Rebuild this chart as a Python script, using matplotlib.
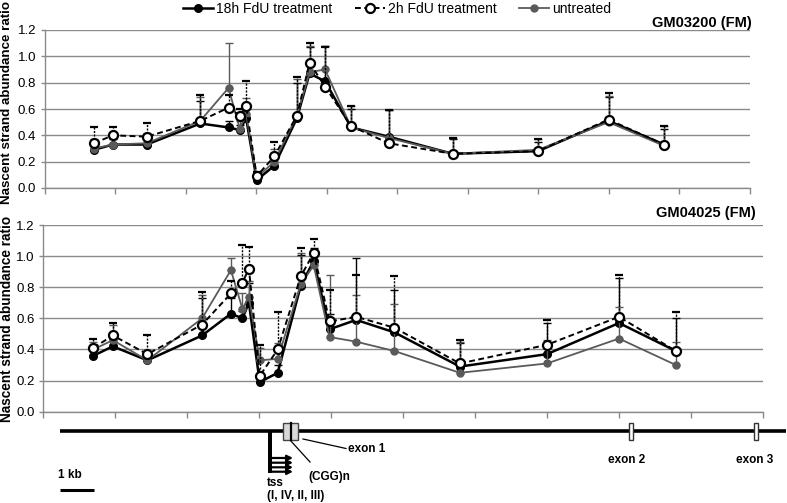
import matplotlib
matplotlib.use("Agg")
import matplotlib.pyplot as plt
from matplotlib.lines import Line2D
from matplotlib.patches import Rectangle

plt.rcParams['font.family'] = ['Liberation Sans', 'DejaVu Sans']

# ---------------- data ----------------
positions = [0.70, 0.97, 1.45, 2.21, 2.61, 2.77, 2.86, 3.01, 3.26, 3.58,
             3.76, 3.98, 4.35, 4.88, 5.79, 7.00, 8.00, 8.79]

series_names = ["18h FdU treatment", "2h FdU treatment", "untreated"]

top_18h = [0.29, 0.33, 0.33, 0.49, 0.46, 0.44, 0.53, 0.06, 0.17, 0.53, 0.87, 0.81, 0.46, 0.39, 0.26, 0.28, 0.51, 0.33]
top_2h  = [0.34, 0.40, 0.39, 0.51, 0.61, 0.55, 0.62, 0.09, 0.24, 0.55, 0.95, 0.77, 0.47, 0.34, 0.26, 0.28, 0.52, 0.33]
top_un  = [0.30, 0.33, 0.34, 0.51, 0.76, 0.45, 0.56, 0.08, 0.20, 0.55, 0.88, 0.90, 0.46, 0.38, 0.26, 0.29, 0.50, 0.32]
top_err_18h = [0.05, 0.04, 0.05, 0.17, 0.05, 0.04, 0.10, 0.03, 0.06, 0.27, 0.20, 0.27, 0.14, 0.20, 0.11, 0.07, 0.18, 0.12]
top_err_2h  = [0.12, 0.06, 0.10, 0.20, 0.10, 0.05, 0.19, 0.03, 0.11, 0.29, 0.15, 0.30, 0.15, 0.25, 0.12, 0.09, 0.20, 0.14]
top_err_un  = [0.07, 0.06, 0.08, 0.18, 0.34, 0.06, 0.12, 0.04, 0.10, 0.28, 0.20, 0.18, 0.16, 0.21, 0.12, 0.08, 0.20, 0.15]

bot_18h = [0.36, 0.42, 0.33, 0.49, 0.63, 0.60, 0.70, 0.19, 0.25, 0.81, 0.97, 0.53, 0.59, 0.51, 0.29, 0.37, 0.57, 0.39]
bot_2h  = [0.41, 0.49, 0.37, 0.56, 0.76, 0.83, 0.92, 0.23, 0.40, 0.87, 1.02, 0.58, 0.61, 0.54, 0.31, 0.43, 0.61, 0.39]
bot_un  = [0.40, 0.46, 0.33, 0.60, 0.91, 0.66, 0.74, 0.33, 0.34, 0.82, 0.94, 0.48, 0.45, 0.39, 0.25, 0.31, 0.47, 0.30]
bot_err_18h = [0.05, 0.05, 0.05, 0.24, 0.10, 0.05, 0.13, 0.05, 0.05, 0.20, 0.08, 0.10, 0.40, 0.27, 0.15, 0.20, 0.29, 0.21]
bot_err_2h  = [0.06, 0.08, 0.12, 0.21, 0.08, 0.24, 0.14, 0.20, 0.24, 0.18, 0.09, 0.20, 0.27, 0.33, 0.15, 0.16, 0.27, 0.25]
bot_err_un  = [0.05, 0.10, 0.05, 0.15, 0.08, 0.10, 0.10, 0.08, 0.10, 0.20, 0.10, 0.40, 0.30, 0.30, 0.20, 0.15, 0.20, 0.15]

panel_titles = ["GM03200 (FM)", "GM04025 (FM)"]
y_ticks = [0.0, 0.2, 0.4, 0.6, 0.8, 1.0, 1.2]
y_label = "Nascent strand abundance ratio"

W, H = 787, 503
fig = plt.figure(figsize=(W / 100, H / 100), dpi=100)

def px_axes(l, t, r, b):
    return fig.add_axes([l / W, 1 - b / H, (r - l) / W, (b - t) / H])

ax_top = px_axes(44.5, 30, 749.5, 188)
ax_bot = px_axes(43, 225, 763, 411.7)

GRID = "#8a8a8a"
GRAY = "#5a5a5a"

styles = [
    dict(color="black", lw=1.8, ls="-", marker="o", ms=5.5, mfc="black", mec="black", z=3, els="-"),
    dict(color="black", lw=1.4, ls=(0, (3, 1.8)), marker="o", ms=6.5, mfc="white", mec="black", mew=1.6, z=5, els=(0, (1.5, 1))),
    dict(color=GRAY, lw=1.3, ls="-", marker="o", ms=5, mfc=GRAY, mec=GRAY, z=4, els="-"),
]

def draw(ax, vals, errs):
    for v, e, s in zip(vals, errs, styles):
        eb = ax.errorbar(positions, v, yerr=[[0] * len(e), e], color=s["color"], lw=s["lw"],
                         ls=s["ls"], marker=s["marker"], ms=s["ms"], mfc=s["mfc"], mec=s["mec"],
                         mew=s.get("mew", 1), ecolor=s["color"], elinewidth=1.0, capsize=3,
                         capthick=1.0, zorder=s["z"])
        eb[2][0].set_linestyle(s["els"])
    ax.set_xlim(0, 10)
    ax.set_ylim(0, 1.2)
    ax.set_yticks(y_ticks)
    ax.set_yticklabels([f"{t:.1f}" for t in y_ticks], fontsize=9.5)
    ax.set_xticks(range(0, 11))
    ax.set_xticklabels([])
    ax.grid(axis="y", color=GRID, lw=1.0)
    ax.set_axisbelow(True)
    for sp in ["top", "right"]:
        ax.spines[sp].set_visible(False)
    for sp in ["left", "bottom"]:
        ax.spines[sp].set_color(GRID)
        ax.spines[sp].set_linewidth(1.0)
    ax.tick_params(axis="both", direction="out", length=4, color=GRID, width=1.0, pad=3)
    ax.tick_params(axis="y", length=3)

draw(ax_top, [top_18h, top_2h, top_un], [top_err_18h, top_err_2h, top_err_un])
draw(ax_bot, [bot_18h, bot_2h, bot_un], [bot_err_18h, bot_err_2h, bot_err_un])

fig.text(752 / W, 1 - 23 / H, panel_titles[0], ha="right", va="center", fontsize=10.5, fontweight="bold")
fig.text(756 / W, 1 - 213 / H, panel_titles[1], ha="right", va="center", fontsize=10.5, fontweight="bold")

fig.text(7 / W, 1 - 102 / H, y_label, rotation=90, ha="center", va="center", fontsize=9.6, fontweight="bold")
fig.text(7 / W, 1 - 319 / H, y_label, rotation=90, ha="center", va="center", fontsize=9.8, fontweight="bold")

# legend
handles = [Line2D([], [], color=s["color"], lw=s["lw"], ls=s["ls"], marker="o", ms=s["ms"],
                  mfc=s["mfc"], mec=s["mec"], mew=s.get("mew", 1)) for s in styles]
fig.legend(handles, series_names, loc="center", bbox_to_anchor=(397 / W, 1 - 9 / H), ncol=3,
           frameon=False, fontsize=10, handlelength=2.2, handletextpad=0.2, columnspacing=1.6,
           borderaxespad=0, borderpad=0)

# ---------------- gene diagram (pixel overlay) ----------------
ov = fig.add_axes([0, 0, 1, 1])
ov.set_xlim(0, W)
ov.set_ylim(H, 0)
ov.axis("off")
ov.patch.set_alpha(0)

ov.plot([60, 786], [431, 431], color="black", lw=2.6, solid_capstyle="butt", zorder=1)
# exon 1 box
ov.add_patch(Rectangle((283, 422.5), 15, 17, facecolor="#d9d9d9", edgecolor="#444444", lw=1, zorder=3))
ov.plot([290.5, 290.5], [422.5, 439.5], color="black", lw=1.6, zorder=4)
# exon 2 / exon 3
for xe in [628.5, 753.5]:
    ov.add_patch(Rectangle((xe, 422.5), 4, 17, facecolor="white", edgecolor="#333333", lw=1, zorder=3))
# tss bar and arrows
ov.add_patch(Rectangle((267.5, 431), 4.5, 42, facecolor="black", edgecolor="none", zorder=3))
for ya in [458, 462.7, 467.3, 471.7]:
    ov.annotate("", xy=(293, ya), xytext=(271, ya),
                arrowprops=dict(arrowstyle="-|>", color="black", lw=1.6, mutation_scale=8,
                                shrinkA=0, shrinkB=0), zorder=3)
# leader lines
ov.plot([290, 310], [440, 462], color="black", lw=0.9)
ov.plot([303, 346], [439, 448.5], color="black", lw=0.9)

ov.text(348, 449, "exon 1", fontsize=8.5, fontweight="bold", ha="left", va="center")
ov.text(308, 477, "(CGG)n", fontsize=8.5, fontweight="bold", ha="left", va="center")
ov.text(267, 483, "tss", fontsize=8.5, fontweight="bold", ha="left", va="center")
ov.text(267, 496, "(I, IV, II, III)", fontsize=8.5, fontweight="bold", ha="left", va="center")
ov.text(627, 460, "exon 2", fontsize=8.5, fontweight="bold", ha="center", va="center")
ov.text(755, 460, "exon 3", fontsize=8.5, fontweight="bold", ha="center", va="center")
ov.text(70, 475, "1 kb", fontsize=8.5, fontweight="bold", ha="center", va="center")
ov.plot([60, 94], [490, 490], color="black", lw=2.2, solid_capstyle="butt")

fig.savefig("out.png", dpi=100)
